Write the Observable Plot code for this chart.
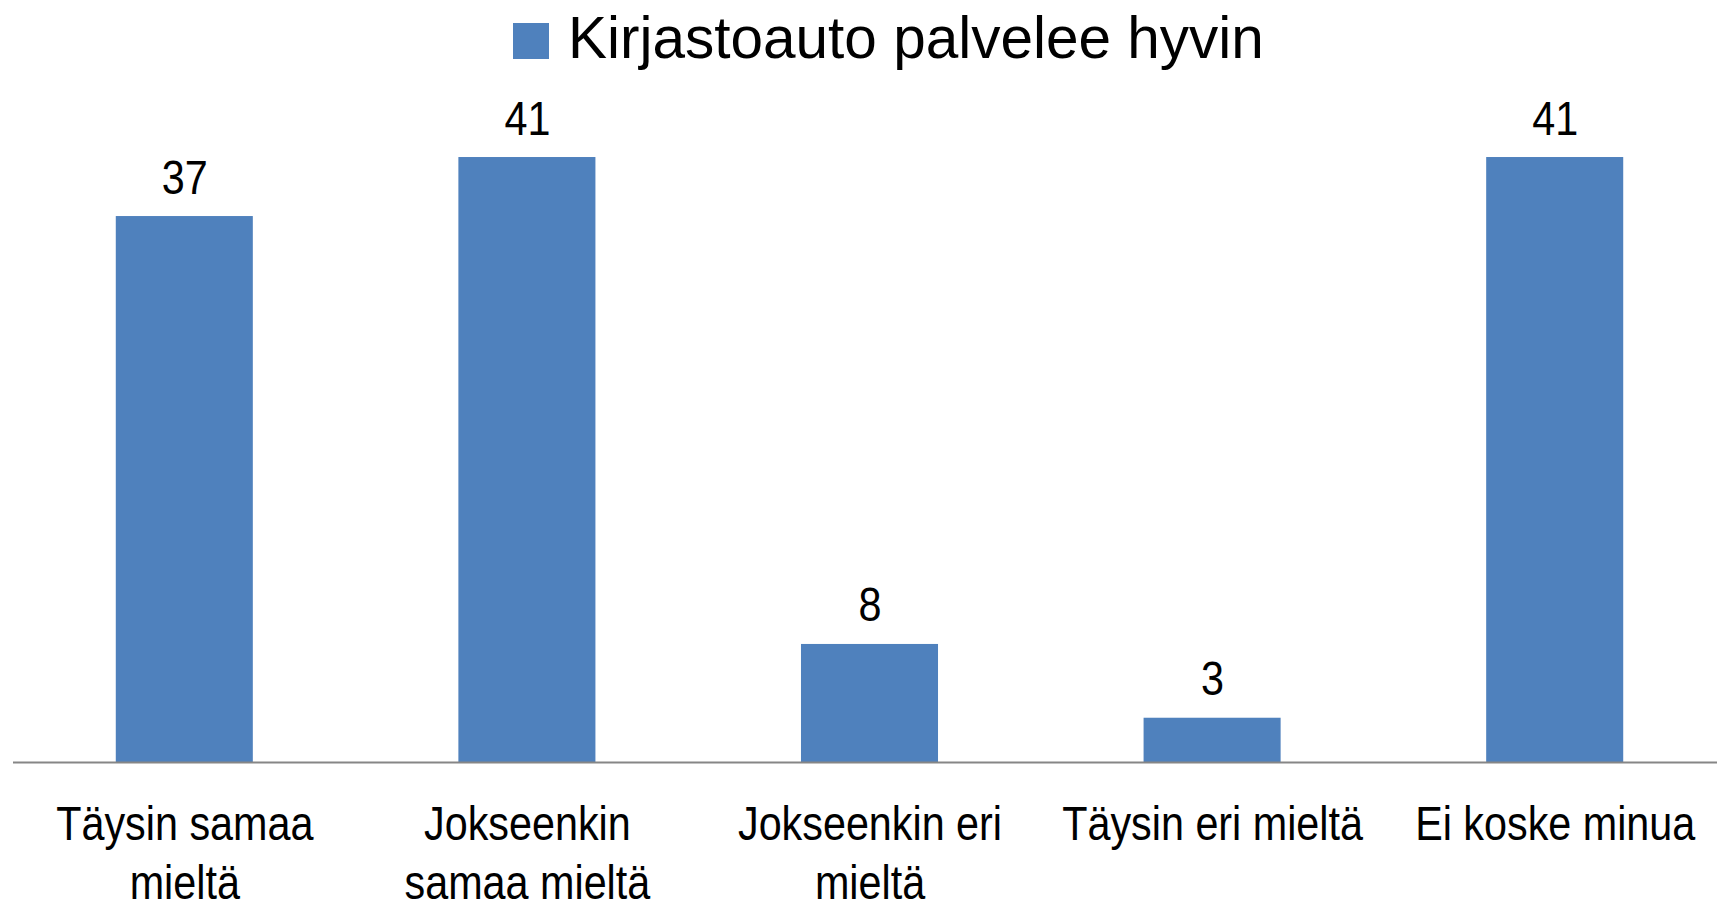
<!DOCTYPE html>
<html>
<head>
<meta charset="utf-8">
<script src="https://cdn.jsdelivr.net/npm/d3@7"></script>
<script src="https://cdn.jsdelivr.net/npm/@observablehq/plot@0.6"></script>
<style>
  html, body { margin: 0; padding: 0; background: #fff; }
  #chart { width: 1717px; height: 905px; overflow: hidden; background: #fff; }
  #chart svg { display: block; }
  #chart text { font-family: "Liberation Sans", Arial, sans-serif; }
</style>
</head>
<body>
<div id="chart"></div>
<script>
// ---- data ----
const categories = ["Täysin samaa mieltä", "Jokseenkin samaa mieltä", "Jokseenkin eri mieltä", "Täysin eri mieltä", "Ei koske minua"];
const tickLabels = ["Täysin samaa\nmieltä", "Jokseenkin\nsamaa mieltä", "Jokseenkin eri\nmieltä", "Täysin eri mieltä", "Ei koske minua"];
const values = [37, 41, 8, 3, 41];
const seriesName = "Kirjastoauto palvelee hyvin";
const barColor = "#4F81BD";

const data = categories.map((c, i) => ({category: c, value: values[i]}));

const chart = document.getElementById("chart");
const condense = 0.87;

// ---- legend (above the plot) ----
const legendH = 90;
const legend = d3.create("svg")
  .attr("id", "legend")
  .attr("width", 1717)
  .attr("height", legendH);
legend.append("rect")
  .attr("x", 513).attr("y", 23).attr("width", 36).attr("height", 36)
  .attr("fill", barColor);
legend.append("text")
  .attr("transform", "translate(568,58) scale(0.975,1)")
  .attr("font-size", 60)
  .attr("fill", "#000")
  .text(seriesName);
chart.appendChild(legend.node());

// ---- plot ----
const plot = Plot.plot({
  width: 1717,
  height: 905 - legendH,
  marginLeft: 13,
  marginRight: -9,
  marginTop: 8,
  marginBottom: 143,
  x: {domain: categories, paddingInner: 0.6, paddingOuter: 0.3, round: false},
  y: {domain: [0, 45], axis: null},
  style: {fontFamily: "'Liberation Sans', Arial, sans-serif", fontSize: "47.5px", color: "#000", background: "#fff", overflow: "visible"},
  marks: [
    Plot.barY(data, {x: "category", y: "value", fill: barColor}),
    Plot.ruleY([0], {stroke: "#868686", strokeWidth: 2}),
    Plot.text(data, {x: "category", y: "value", text: d => String(d.value), lineAnchor: "bottom", dy: -23, fontSize: 47.5, fill: "#000"}),
    Plot.axisX({
      tickSize: 0,
      tickPadding: 36,
      tickFormat: d => tickLabels[categories.indexOf(d)],
      fontSize: 47.5,
      lineHeight: 1.234,
      label: null,
      fill: "#000"
    })
  ]
});
plot.id = "plot";
// condense the glyphs horizontally around each text's own anchor point
plot.querySelectorAll("text").forEach(t => {
  const tr = t.getAttribute("transform");
  if (tr) t.setAttribute("transform", tr + ` scale(${condense},1)`);
});
chart.appendChild(plot);
</script>
</body>
</html>
